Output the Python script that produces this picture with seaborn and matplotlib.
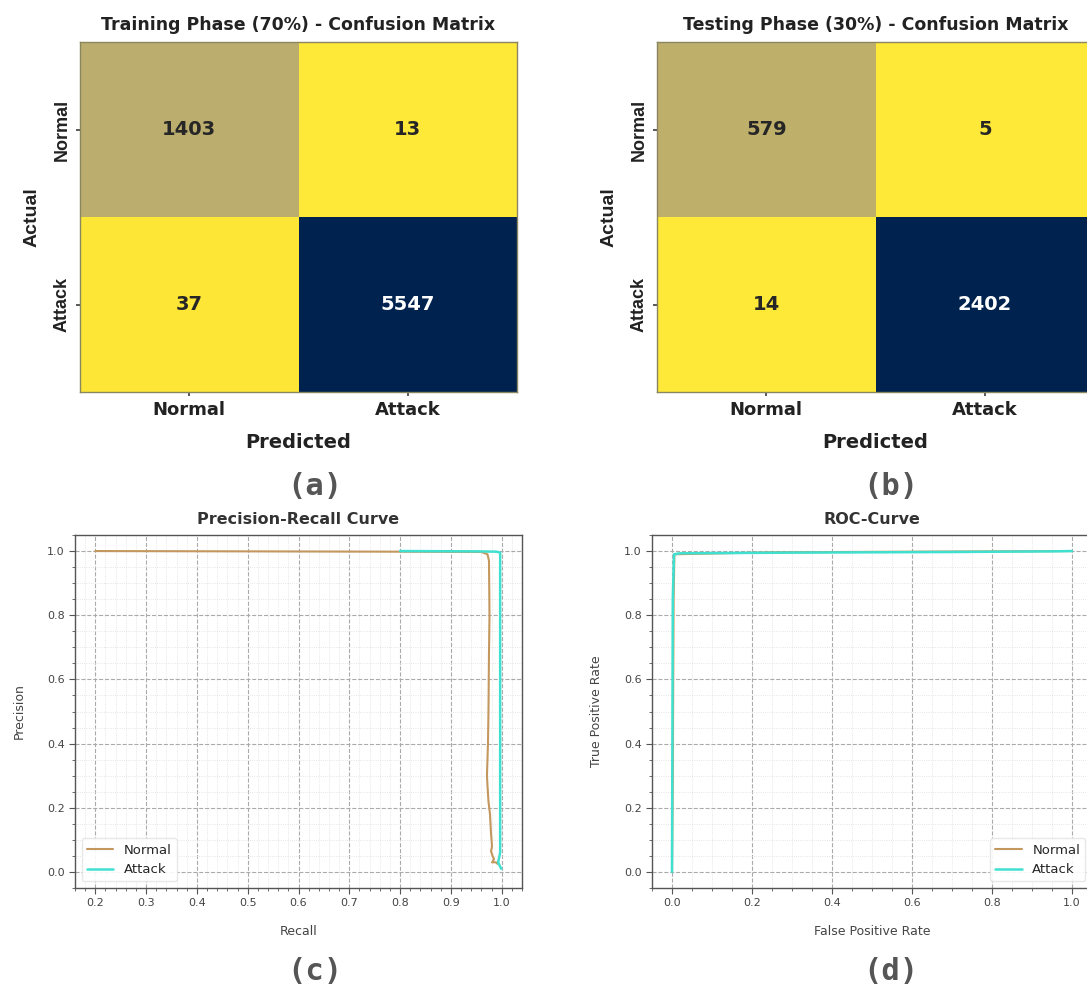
import matplotlib
matplotlib.use("Agg")
import pandas as pd
import matplotlib.pyplot as plt
import seaborn as sns

# confusion matrices
classes = ["Normal", "Attack"]
train_cm = [[1403, 13], [37, 5547]]
test_cm = [[579, 5], [14, 2402]]

# precision-recall curve points
pr_normal_recall = [0.2, 0.5, 0.8, 0.96, 0.972, 0.975, 0.976, 0.975, 0.974, 0.973, 0.971,
                    0.972, 0.974, 0.977, 0.978, 0.979, 0.981, 0.979, 0.982, 0.985, 0.981, 0.989, 0.992]
pr_normal_precision = [1.0, 0.999, 0.998, 0.997, 0.99, 0.97, 0.80, 0.68, 0.50, 0.40, 0.30,
                       0.27, 0.22, 0.18, 0.15, 0.12, 0.08, 0.065, 0.05, 0.04, 0.03, 0.03, 0.025]
pr_attack_recall = [0.8, 0.95, 0.99, 0.997, 0.997, 0.997, 0.993, 0.999]
pr_attack_precision = [1.0, 0.999, 0.998, 0.995, 0.5, 0.06, 0.03, 0.01]

# ROC curve points
roc_normal_fpr = [0.0, 0.002, 0.004, 0.006, 0.25, 0.6, 1.0]
roc_normal_tpr = [0.0, 0.30, 0.85, 0.99, 0.996, 0.998, 1.0]
roc_attack_fpr = [0.0, 0.002, 0.005, 0.02, 0.3, 0.7, 0.95, 1.0]
roc_attack_tpr = [0.0, 0.85, 0.99, 0.993, 0.995, 0.997, 0.999, 1.0]

normal_color = "#c4975f"
attack_color = "#40e0d0"

sns.set_theme(style="whitegrid")
plt.rcParams['font.family'] = ['DejaVu Sans']

fig = plt.figure(figsize=(10.87, 9.85), dpi=100)

W, H = 1087, 985


def px_axes(left, top, right, bottom):
    return fig.add_axes([left / W, 1 - bottom / H, (right - left) / W, (bottom - top) / H])


def draw_cm(ax, cm, title):
    df = pd.DataFrame(cm, index=classes, columns=classes)
    sns.heatmap(df, annot=True, fmt="d", cmap="cividis_r", cbar=False, ax=ax,
                annot_kws={"weight": "bold", "size": 14})
    for s in ax.spines.values():
        s.set_visible(True)
        s.set_color("#8a8660")
        s.set_linewidth(1.0)
    ax.set_title(title, fontsize=12.5, weight="bold", color="#222", pad=9)
    ax.set_xlabel("Predicted", fontsize=14, weight="bold", color="#222", labelpad=10)
    ax.set_ylabel("Actual", fontsize=14, weight="bold", family="Liberation Sans",
                  color="#222", labelpad=10)
    ax.tick_params(axis="both", length=3, color="#444", bottom=True, left=True)
    for lab in ax.get_xticklabels():
        lab.set_fontsize(13)
        lab.set_fontweight("bold")
        lab.set_color("#222")
    for lab in ax.get_yticklabels():
        lab.set_fontsize(13)
        lab.set_fontweight("bold")
        lab.set_family("Liberation Sans")
        lab.set_color("#222")
    plt.setp(ax.get_yticklabels(), rotation=90, va="center")


def style_curve(ax, title, xlabel, ylabel):
    ax.set_facecolor("white")
    ax.minorticks_on()
    ax.grid(which="major", linestyle="--", color="#aaaaaa", linewidth=0.8)
    ax.grid(which="minor", linestyle=":", color="#dddddd", linewidth=0.6)
    for s in ax.spines.values():
        s.set_color("#555555")
        s.set_linewidth(1.0)
    ax.tick_params(which="major", direction="out", length=4, width=0.8, color="#555",
                   bottom=True, left=True, labelsize=8, labelcolor="#444")
    ax.tick_params(which="minor", direction="out", length=2, width=0.6, color="#555",
                   bottom=True, left=True)
    ax.set_title(title, fontsize=11.5, weight="bold", color="#333", pad=8)
    ax.set_xlabel(xlabel, fontsize=9, color="#444", labelpad=12)
    ax.set_ylabel(ylabel, fontsize=9, color="#444", labelpad=15)


# (a) training confusion matrix
ax_a = px_axes(80, 42, 517, 392)
draw_cm(ax_a, train_cm, "Training Phase (70%) - Confusion Matrix")

# (b) testing confusion matrix
ax_b = px_axes(657, 42, 1094, 392)
draw_cm(ax_b, test_cm, "Testing Phase (30%) - Confusion Matrix")

# (c) precision-recall
ax_c = px_axes(75, 535, 522, 888)
sns.lineplot(x=pr_normal_recall, y=pr_normal_precision, sort=False, estimator=None,
             color=normal_color, linewidth=1.5, label="Normal", ax=ax_c)
sns.lineplot(x=pr_attack_recall, y=pr_attack_precision, sort=False, estimator=None,
             color=attack_color, linewidth=1.8, label="Attack", ax=ax_c)
ax_c.set_xlim(0.16, 1.04)
ax_c.set_ylim(-0.05, 1.05)
ax_c.set_xticks([0.2, 0.3, 0.4, 0.5, 0.6, 0.7, 0.8, 0.9, 1.0])
style_curve(ax_c, "Precision-Recall Curve", "Recall", "Precision")
ax_c.legend(loc="lower left", fontsize=9.5, frameon=True, facecolor="white",
            edgecolor="#e6e6e6", framealpha=0.9)

# (d) ROC
ax_d = px_axes(652, 535, 1092, 888)
sns.lineplot(x=roc_normal_fpr, y=roc_normal_tpr, sort=False, estimator=None,
             color=normal_color, linewidth=1.5, label="Normal", ax=ax_d)
sns.lineplot(x=roc_attack_fpr, y=roc_attack_tpr, sort=False, estimator=None,
             color=attack_color, linewidth=1.8, label="Attack", ax=ax_d)
ax_d.set_xlim(-0.05, 1.05)
ax_d.set_ylim(-0.05, 1.05)
style_curve(ax_d, "ROC-Curve", "False Positive Rate", "True Positive Rate")
ax_d.legend(loc="lower right", fontsize=9.5, frameon=True, facecolor="white",
            edgecolor="#e6e6e6", framealpha=0.9)

# panel letters
for x, y, txt in [(315, 487, "(a)"), (891, 487, "(b)"), (315, 972, "(c)"), (891, 972, "(d)")]:
    fig.text(x / W, 1 - y / H, txt, ha="center", va="center", fontsize=22, weight="bold",
             color="#555555", family="DejaVu Sans Mono")

fig.savefig("out.png", dpi=100, facecolor="white")
